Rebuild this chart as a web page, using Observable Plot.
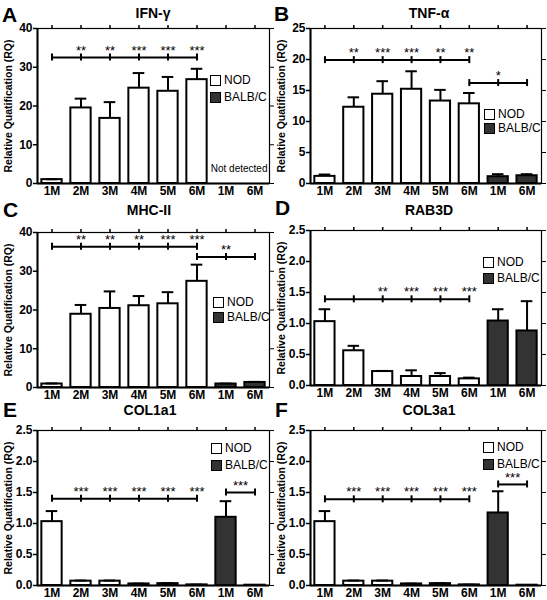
<!DOCTYPE html>
<html><head><meta charset="utf-8">
<script src="https://cdn.jsdelivr.net/npm/d3@7"></script>
<script src="https://cdn.jsdelivr.net/npm/@observablehq/plot@0.6"></script>
<style>
body{margin:0;background:#fff;font-family:"Liberation Sans",Arial,sans-serif;}
#root{position:relative;width:547px;height:600px;overflow:hidden;}
.panel{position:absolute;width:273px;height:200px;}
.letter{position:absolute;font-weight:bold;font-size:21px;line-height:21px;}
.title{position:absolute;font-weight:bold;font-size:14px;line-height:14px;width:200px;text-align:center;}
.leg{position:absolute;font-size:12px;line-height:12px;display:flex;align-items:center;}
.sw{width:9px;height:9px;border:1.5px solid #000;margin-right:3px;}
</style></head><body><div id="root"></div>
<script>
// ---- data ----
const months = ["1M","2M","3M","4M","5M","6M","1M","6M"];
const strains = ["NOD","NOD","NOD","NOD","NOD","NOD","BALB/C","BALB/C"];
const panelLetters = ["A","B","C","D","E","F"];
const panelTitles = ["IFN-γ","TNF-α","MHC-II","RAB3D","COL1a1","COL3a1"];
const yLabel = "Relative Quatification (RQ)";

const ifngMean = [1.0,19.5,16.8,24.6,23.8,26.8,0,0];
const ifngErr  = [0.1,2.4,4.2,3.9,3.7,2.8,0,0];
const tnfMean  = [1.15,12.3,14.4,15.2,13.3,12.85,1.1,1.25];
const tnfErr   = [0.3,1.6,2.1,2.9,1.8,1.75,0.4,0.25];
const mhcMean  = [0.9,18.9,20.4,21.1,21.6,27.4,0.9,1.3];
const mhcErr   = [0.15,2.4,4.4,2.5,3.0,4.3,0.1,0.15];
const rabMean  = [1.03,0.56,0.225,0.145,0.145,0.107,1.04,0.88];
const rabErr   = [0.2,0.08,0.01,0.1,0.055,0.02,0.19,0.48];
const col1Mean = [1.03,0.07,0.07,0.025,0.03,0.01,1.1,0.005];
const col1Err  = [0.17,0.01,0.01,0.005,0.005,0.003,0.26,0];
const col3Mean = [1.03,0.07,0.07,0.025,0.03,0.01,1.17,0.005];
const col3Err  = [0.17,0.01,0.01,0.005,0.005,0.003,0.35,0];

const yMax = [40,25,40,2.5,2.5,2.5];
const yTicks = [[0,10,20,30,40],[0,5,10,15,20,25],[0,10,20,30,40],
  [0,0.5,1,1.5,2,2.5],[0,0.5,1,1.5,2,2.5],[0,0.5,1,1.5,2,2.5]];

// significance brackets: from index, to index, level, stars (per tick or midpoint)
const ifngBrackets = [{from:0,to:5,y:32.5,stars:["","**","**","***","***","***"]}];
const tnfBrackets  = [{from:0,to:5,y:19.9,stars:["","**","***","***","**","**"]},
                      {from:5,to:7,y:16.2,mid:"*"}];
const mhcBrackets  = [{from:0,to:5,y:36.3,stars:["","**","**","**","***","***"]},
                      {from:5,to:7,y:33.7,mid:"**"}];
const rabBrackets  = [{from:0,to:5,y:1.39,stars:["","","**","***","***","***"]}];
const col1Brackets = [{from:0,to:5,y:1.4,stars:["","***","***","***","***","***"]},
                      {from:6,to:7,y:1.5,mid:"***"}];
const col3Brackets = [{from:0,to:5,y:1.39,stars:["","***","***","***","***","***"]},
                      {from:6,to:7,y:1.63,mid:"***"}];

const means = [ifngMean,tnfMean,mhcMean,rabMean,col1Mean,col3Mean];
const errs = [ifngErr,tnfErr,mhcErr,rabErr,col1Err,col3Err];
const brackets = [ifngBrackets,tnfBrackets,mhcBrackets,rabBrackets,col1Brackets,col3Brackets];

// ---- layout (page px) ----
const panelPos = [[0,0],[272,0],[0,204],[272,202],[0,402],[272,402]];
const letterPos = [[2,4],[274,3],[3,199],[275,197],[3,399],[275,399]];
const titleCenter = [[153,13],[429,13],[149,210],[429,210],[150,410],[429,410]];
const legendPos = [[210,80],[484,114],[213,302],[483,262],[211,448],[483,447]];
const legendGap = [17,14,15,16,17,17];

const root = document.getElementById("root");
const idx = d3.range(8);

for (let p = 0; p < 6; p++) {
  const rows = idx.map(i => ({i, m: months[i], s: strains[i], mean: means[p][i], err: errs[p][i]}));
  const bars = rows.filter(d => d.mean > 0);
  const eb = rows.filter(d => d.err > 0);
  const brRows = brackets[p];
  const brTicks = brRows.flatMap(b => d3.range(b.from, b.to + 1).map(i => ({i, y: b.y})));
  const starRows = brRows.flatMap(b => b.stars
      ? b.stars.map((s, k) => ({x: b.from + k, y: b.y, s})).filter(d => d.s)
      : [{x: (b.from + b.to) / 2, y: b.y, s: b.mid}]);
  const fmt = yMax[p] < 5 ? d3.format(".1f") : d3.format("d");
  const marks = [
    Plot.rect(bars, {x1: d => d.i - 0.35, x2: d => d.i + 0.35, y1: 0, y2: "mean",
      fill: d => d.s === "NOD" ? "#ffffff" : "#333333", stroke: "#000", strokeWidth: 2}),
    Plot.ruleX(eb, {x: "i", y1: "mean", y2: d => d.mean + d.err, stroke: "#000", strokeWidth: 2}),
    Plot.ruleY(eb, {y: d => d.mean + d.err, x1: d => d.i - 0.2, x2: d => d.i + 0.2, stroke: "#000", strokeWidth: 2}),
    Plot.ruleY(brRows, {y: "y", x1: "from", x2: "to", stroke: "#000", strokeWidth: 2}),
    Plot.ruleX(brTicks, {x: "i", y1: "y", y2: "y", insetTop: -3.5, insetBottom: -3.5, stroke: "#000", strokeWidth: 2}),
    Plot.text(starRows, {x: "x", y: "y", text: "s", dy: -7, fontSize: 13, fontWeight: "normal"}),
    Plot.frame({stroke: "#000", strokeWidth: 1.2}),
    Plot.ruleX([0], {x: () => -0.5, stroke: "#000", strokeWidth: 2}),
    Plot.ruleY([0], {stroke: "#000", strokeWidth: 2}),
    Plot.axisY({anchor: "left", ticks: yTicks[p], tickFormat: fmt, tickSize: 4, tickPadding: 1, label: null, strokeWidth: 1.5, fontSize: 12}),
    Plot.axisY({anchor: "right", ticks: yTicks[p], tickFormat: () => "", tickSize: 4, label: null, strokeWidth: 1}),
    Plot.axisX({anchor: "top", ticks: idx, tickFormat: () => "", tickSize: 4, label: null, strokeWidth: 1.5}),
    Plot.axisX({anchor: "bottom", ticks: idx, tickFormat: i => months[i], tickSize: 0, tickPadding: 3, label: null, fontSize: 12}),
    Plot.text([yLabel], {text: d => d, frameAnchor: "left", textAnchor: "middle", rotate: -90, dx: -29, fontSize: 10.5, fontWeight: "bold"})
  ];
  if (p === 0) marks.push(Plot.text(["Not detected"], {text: d => d, frameAnchor: "bottom-right", dx: -2, dy: -12, fontSize: 10, fontWeight: "normal"}));
  const chart = Plot.plot({
    width: 273, height: 198,
    marginLeft: p % 2 ? 38 : 37, marginRight: 4, marginTop: 28, marginBottom: 15,
    x: {type: "linear", domain: [-0.5, 7.5], axis: null},
    y: {domain: [0, yMax[p]], axis: null},
    style: {fontFamily: "Liberation Sans, Arial, sans-serif", fontSize: "11px", fontWeight: "bold", background: "transparent", overflow: "visible"},
    marks
  });
  const div = document.createElement("div");
  div.className = "panel";
  div.style.left = panelPos[p][0] + "px";
  div.style.top = panelPos[p][1] + "px";
  div.appendChild(chart);
  root.appendChild(div);

  const L = document.createElement("div");
  L.className = "letter"; L.textContent = panelLetters[p];
  L.style.left = letterPos[p][0] + "px"; L.style.top = letterPos[p][1] + "px";
  root.appendChild(L);

  const T = document.createElement("div");
  T.className = "title"; T.textContent = panelTitles[p];
  T.style.left = (titleCenter[p][0] - 100) + "px"; T.style.top = (titleCenter[p][1] - 7) + "px";
  root.appendChild(T);

  ["NOD","BALB/C"].forEach((name, k) => {
    const g = document.createElement("div");
    g.className = "leg";
    g.style.left = legendPos[p][0] + "px";
    g.style.top = (legendPos[p][1] + k * legendGap[p] - 6) + "px";
    const sw = document.createElement("div");
    sw.className = "sw"; sw.style.background = name === "NOD" ? "#fff" : "#333";
    g.appendChild(sw);
    g.appendChild(document.createTextNode(name));
    root.appendChild(g);
  });
}
</script></body></html>
